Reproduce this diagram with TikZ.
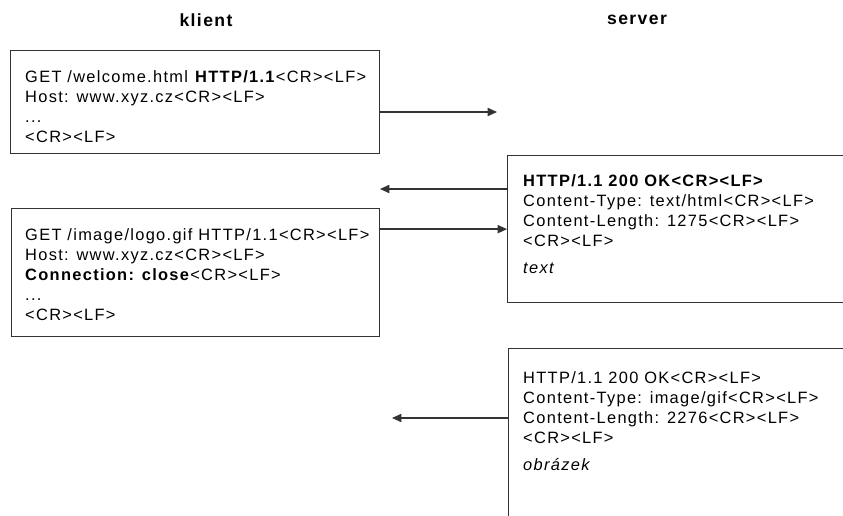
\documentclass[tikz,border=0pt]{standalone}
\usepackage{fontspec}
\setmainfont{Liberation Sans}[LetterSpace=8]
\usetikzlibrary{arrows.meta}
\definecolor{LineGray}{HTML}{333333}

\begin{document}
\begin{tikzpicture}[x=0.03cm, y=-0.03cm,
  msgbox/.style={draw=LineGray, line width=1.1pt, inner sep=0pt, anchor=north west},
  msgtext/.style={anchor=north west, inner sep=0pt, align=left,
    font=\fontsize{14}{17.1}\selectfont},
  heading/.style={font=\fontsize{15}{17}\selectfont\bfseries},
  msgarrow/.style={draw=LineGray, line width=1.1pt, -{Triangle[length=8pt, width=7pt]}}]
  % --- SIZES (one unit = one pixel of the layout) ---
  \def\Unit{0.03cm}

  % =====================================================================
  % 1. FRAME
  % =====================================================================
  \clip (0,0) rectangle (843,516);

  % =====================================================================
  % 2. HEADINGS
  % =====================================================================
  \node[heading] (klient) at (206,20) {klient};
  \node[heading] (server) at (637,20) {server};

  % =====================================================================
  % 3. CLIENT REQUESTS
  % =====================================================================
  \node[msgbox, minimum width=369*\Unit, minimum height=103*\Unit] (req1) at (10,50) {};
  \node[msgtext] (req1text) at (25,70) {GET /welcome.html \textbf{HTTP/1.1}<CR><LF>\\
    Host: www.xyz.cz<CR><LF>\\
    ...\\
    <CR><LF>};

  \node[msgbox, minimum width=368*\Unit, minimum height=128*\Unit] (req2) at (11,208) {};
  \node[msgtext] (req2text) at (25,228) {GET /image/logo.gif HTTP/1.1<CR><LF>\\
    Host: www.xyz.cz<CR><LF>\\
    \textbf{Connection: close}<CR><LF>\\
    ...\\
    <CR><LF>};

  % =====================================================================
  % 4. SERVER RESPONSES (cut by the right and bottom edge)
  % =====================================================================
  \node[msgbox, minimum width=360*\Unit, minimum height=147*\Unit] (resp1) at (507,155) {};
  \node[msgtext] (resp1text) at (523,174) {\textbf{HTTP/1.1 200 OK<CR><LF>}\\
    Content-Type: text/html<CR><LF>\\
    Content-Length: 1275<CR><LF>\\
    <CR><LF>\\[6pt]
    \textit{text}};

  \node[msgbox, minimum width=360*\Unit, minimum height=200*\Unit] (resp2) at (508,348) {};
  \node[msgtext] (resp2text) at (523,371) {HTTP/1.1 200 OK<CR><LF>\\
    Content-Type: image/gif<CR><LF>\\
    Content-Length: 2276<CR><LF>\\
    <CR><LF>\\[6pt]
    \textit{obrázek}};

  % =====================================================================
  % 5. MESSAGES
  % =====================================================================
  \coordinate (get1end) at (497,112);
  \coordinate (ok1end) at (380,189);
  \coordinate (ok2end) at (392,418);

  \draw[msgarrow] (req1.east |- get1end) -- (get1end);
  \draw[msgarrow] (resp1.west |- ok1end) -- (ok1end);
  \draw[msgarrow] (req2.east |- resp1.west) -- (resp1.west);
  \draw[msgarrow] (resp2.west |- ok2end) -- (ok2end);

\end{tikzpicture}
\end{document}
